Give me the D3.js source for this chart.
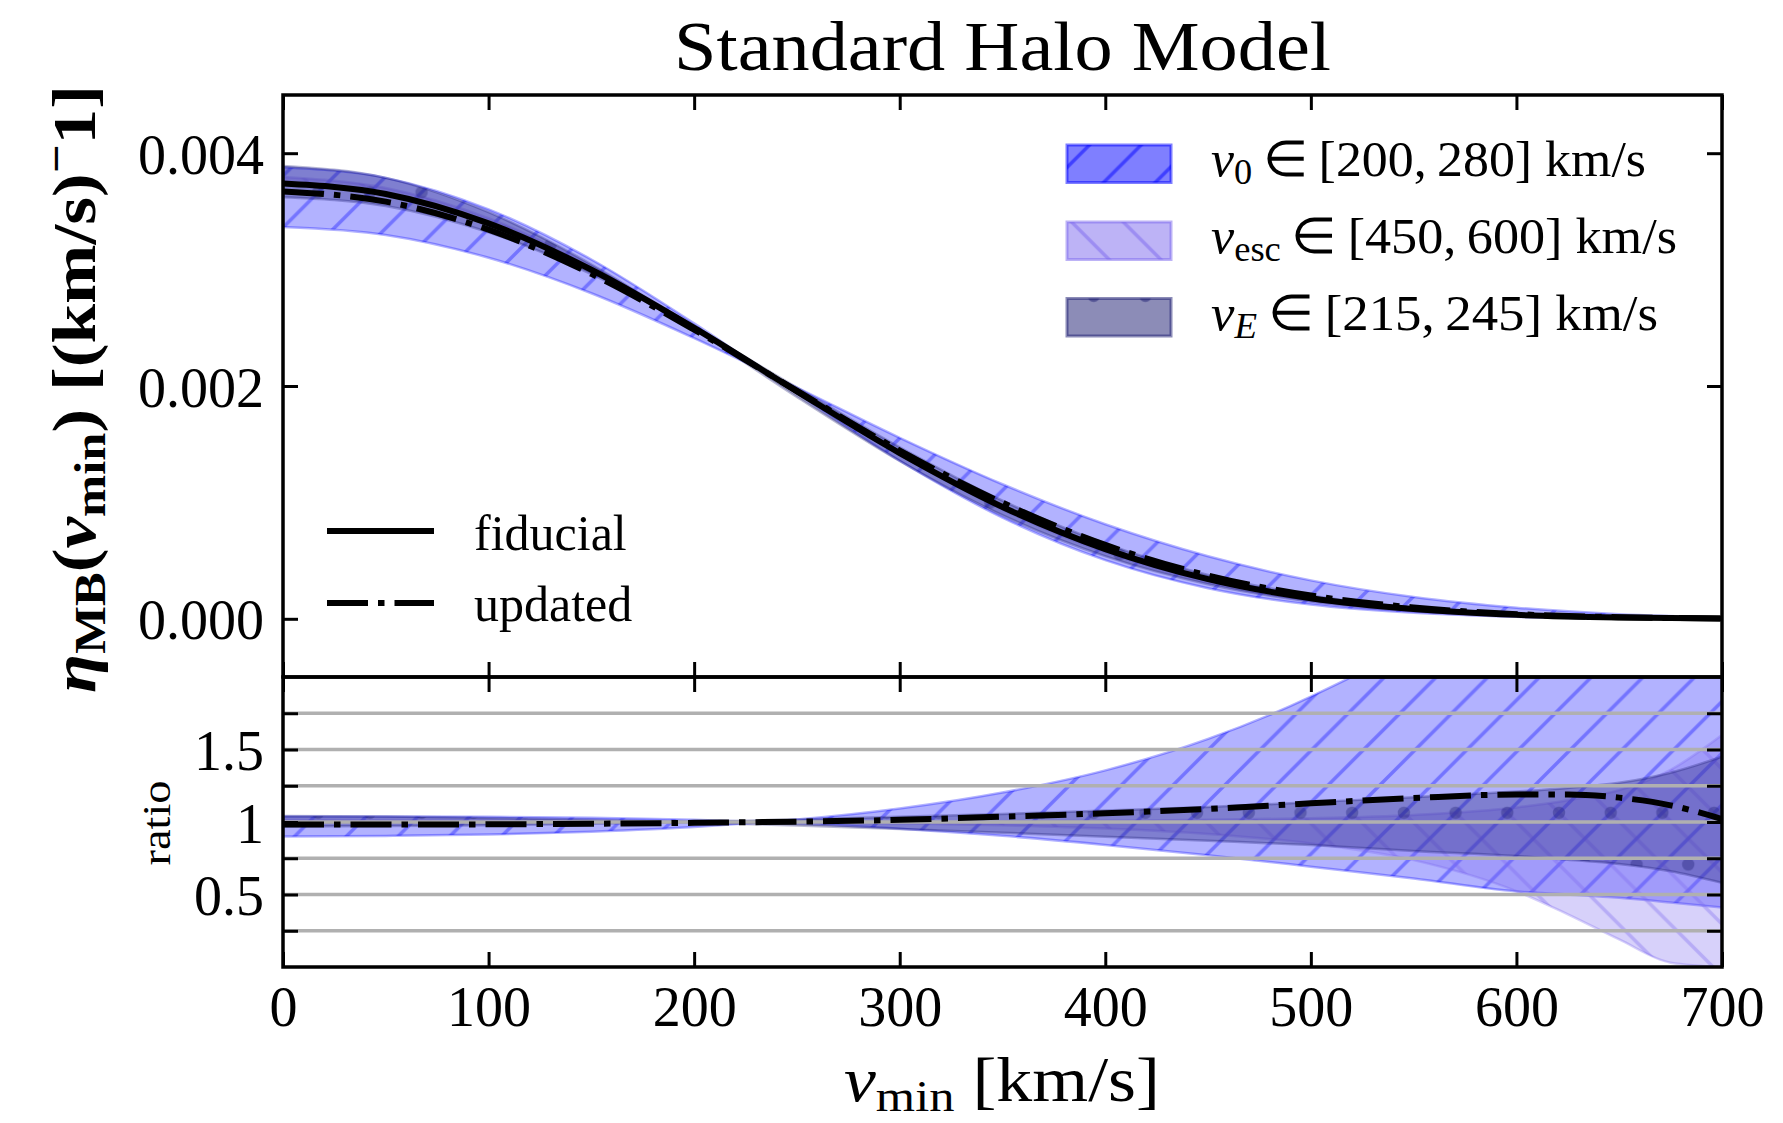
<!DOCTYPE html>
<html><head><meta charset="utf-8">
<script src="https://cdn.jsdelivr.net/npm/d3@7"></script>
<style>
body{margin:0;background:#fff}
svg{display:block}
text{font-family:"Liberation Serif","Times New Roman",serif;fill:#000}
</style></head><body>
<svg id="c" width="1783" height="1123"></svg>
<script>
// ---------------- data ----------------
const velocity = [0,50,100,150,200,250,300,350,400,450,500,550,600,650,700];
const etaFiducial = [0.003739,0.003650,0.003397,0.002999,0.002499,0.001954,0.001424,0.000961,0.000599,0.000341,0.000177,0.0000835,0.0000338,0.0000116,0.0000029];
const etaUpdated  = [0.003672,0.003584,0.003343,0.002963,0.002484,0.001958,0.001445,0.000997,0.000635,0.000372,0.000200,0.0000973,0.0000402,0.0000135,0.0000029];
const etaV0Low    = [0.003880,0.003788,0.003518,0.003087,0.002538,0.001936,0.001358,0.000869,0.000504,0.000263,0.000122,0.0000510,0.0000176,0.0000055,0.0000012];
const etaV0High   = [0.003366,0.003298,0.003102,0.002797,0.002411,0.001987,0.001555,0.001156,0.000812,0.000537,0.000330,0.000187,0.0000950,0.0000400,0.0000120];
const etaVescLow  = [0.003795,0.003701,0.003441,0.003029,0.002514,0.001952,0.001410,0.000939,0.000572,0.000313,0.000151,0.0000615,0.0000177,0.0000022,0.0];
const etaVescHigh = [0.003731,0.003643,0.003390,0.002996,0.002497,0.001954,0.001424,0.000963,0.000604,0.000346,0.000182,0.0000876,0.0000372,0.0000141,0.0000046];
const etaVELow    = [0.003891,0.003788,0.003493,0.003044,0.002491,0.001906,0.001356,0.000890,0.000538,0.000297,0.000149,0.0000666,0.0000259,0.0000082,0.0000016];
const etaVEHigh   = [0.003622,0.003547,0.003321,0.002962,0.002501,0.001987,0.001474,0.001015,0.000646,0.000376,0.000201,0.0000958,0.0000409,0.0000141,0.0000042];

const velocityRatio = [0,50,100,150,200,225,250,300,350,400,450,500,550,600,625,650,675,700];
const ratioUpdated  = [0.982,0.982,0.984,0.988,0.994,0.998,1.002,1.015,1.037,1.060,1.090,1.129,1.165,1.190,1.190,1.168,1.115,1.020];
const ratioV0Low    = [1.038,1.038,1.036,1.029,1.015,1.003,0.991,0.954,0.905,0.842,0.771,0.692,0.611,0.521,0.500,0.477,0.445,0.410];
const ratioV0High   = [0.900,0.904,0.913,0.933,0.965,0.990,1.017,1.093,1.203,1.356,1.573,1.865,2.245,2.810,3.100,3.430,3.800,4.200];
const ratioVescLow  = [1.015,1.014,1.013,1.010,1.006,1.003,0.999,0.990,0.977,0.955,0.917,0.852,0.737,0.523,0.363,0.190,0.030,0.000];
const ratioVescHigh = [0.998,0.998,0.998,0.999,0.999,1.000,1.000,1.000,1.002,1.008,1.015,1.026,1.049,1.100,1.150,1.220,1.360,1.600];
const ratioVELow    = [1.041,1.038,1.028,1.015,0.997,0.987,0.976,0.952,0.926,0.899,0.871,0.841,0.800,0.765,0.740,0.710,0.660,0.580];
const ratioVEHigh   = [0.969,0.972,0.977,0.988,1.001,1.009,1.017,1.036,1.056,1.079,1.103,1.137,1.170,1.210,1.235,1.270,1.340,1.450];

const xTicks = [0,100,200,300,400,500,600,700];
const etaTicks = [0,0.002,0.004];
const ratioTicks = [0.25,0.5,0.75,1,1.25,1.5,1.75];
const ratioTickLabels = {0.5:"0.5",1:"1",1.5:"1.5"};
const bandNames = ["v0","vesc","vE"];

// ---------------- layout ----------------
const L=283, R=1722, T=95, M=677, B=967;
const svg = d3.select("#c");
const x = d3.scaleLinear().domain([0,700]).range([L,R]);
const yTop = d3.scaleLinear().domain([-0.0005,0.0045]).range([M,T]);
const yRat = d3.scaleLinear().domain([0,2]).range([B,M]);

const styles = {
  v0:   {color:"#0000ff", hatch:"ne", alpha:0.3},
  vesc: {color:"#7b68ee", hatch:"nw", alpha:0.3},
  vE:   {color:"#191970", hatch:"circ", alpha:0.33}
};
const S = 51.7;
const defs = svg.append("defs");
function makePatterns(suffix, alpha){
  bandNames.forEach(n=>{
    const st = styles[n];
    const p = defs.append("pattern").attr("id",n+suffix).attr("patternUnits","userSpaceOnUse")
      .attr("x",8).attr("y",-14.4).attr("width",S).attr("height", st.hatch==="circ"?2*S:S);
    const g = p.append("g").attr("opacity",alpha);
    if(st.hatch==="ne"){
      g.append("path").attr("d",`M0,${S} L${S},0 M-6,6 L6,-6 M${S-6},${S+6} L${S+6},${S-6}`)
        .attr("stroke",st.color).attr("stroke-width",3.5).attr("fill","none");
    } else if(st.hatch==="nw"){
      g.append("path").attr("d",`M0,0 L${S},${S} M-6,${S-6} L6,${S+6} M${S-6},-6 L${S+6},6`)
        .attr("stroke",st.color).attr("stroke-width",3.5).attr("fill","none");
    } else {
      [[0,0],[S,0],[S/2,S],[0,2*S],[S,2*S]].forEach(c=>{
        g.append("circle").attr("cx",c[0]).attr("cy",c[1]).attr("r",6.2).attr("fill",st.color);
      });
    }
  });
}
makePatterns("-plot",0.35);
makePatterns("-leg",0.5);

defs.append("clipPath").attr("id","clipTop").append("rect").attr("x",L).attr("y",T).attr("width",R-L).attr("height",M-T);
defs.append("clipPath").attr("id","clipRat").append("rect").attr("x",L).attr("y",M).attr("width",R-L).attr("height",B-M);

function drawBand(g, xs, lo, hi, ys, name){
  const st = styles[name];
  const area = d3.area().x((d,i)=>x(xs[i])).y0((d,i)=>ys(lo[i])).y1((d,i)=>ys(hi[i])).curve(d3.curveMonotoneX);
  const dStr = area(xs);
  g.append("path").attr("d",dStr).attr("fill",st.color).attr("fill-opacity",st.alpha);
  g.append("path").attr("d",dStr).attr("fill",`url(#${name}-plot)`);
  g.append("path").attr("d",dStr).attr("fill","none").attr("stroke",st.color).attr("stroke-opacity",0.3).attr("stroke-width",2.5);
}
function drawLine(g, xs, vals, ys, dashed){
  const line = d3.line().x((d,i)=>x(xs[i])).y((d,i)=>ys(vals[i])).curve(d3.curveMonotoneX);
  const p = g.append("path").attr("d",line(xs)).attr("fill","none").attr("stroke","#000").attr("stroke-width",6);
  if(dashed) p.attr("stroke-dasharray","41 10 6.5 10");
}

// ---------------- top panel ----------------
const gTop = svg.append("g").attr("clip-path","url(#clipTop)");
drawBand(gTop, velocity, etaV0Low, etaV0High, yTop, "v0");
drawBand(gTop, velocity, etaVescLow, etaVescHigh, yTop, "vesc");
drawBand(gTop, velocity, etaVELow, etaVEHigh, yTop, "vE");
drawLine(gTop, velocity, etaFiducial, yTop, false);
drawLine(gTop, velocity, etaUpdated, yTop, true);

// ---------------- ratio panel ----------------
const gRat = svg.append("g").attr("clip-path","url(#clipRat)");
drawBand(gRat, velocityRatio, ratioV0Low, ratioV0High, yRat, "v0");
drawBand(gRat, velocityRatio, ratioVescLow, ratioVescHigh, yRat, "vesc");
drawBand(gRat, velocityRatio, ratioVELow, ratioVEHigh, yRat, "vE");
gRat.selectAll("line.grid").data(ratioTicks).enter().append("line").attr("class","grid")
  .attr("x1",L).attr("x2",R).attr("y1",d=>yRat(d)).attr("y2",d=>yRat(d))
  .attr("stroke","#b0b0b0").attr("stroke-width",3.3);
drawLine(gRat, velocityRatio, ratioUpdated, yRat, true);

// ---------------- axes ----------------
function styleAxis(g, fs){
  g.select(".domain").remove();
  g.attr("font-family",null).attr("font-size",null);
  g.selectAll(".tick line").attr("stroke","#000").attr("stroke-width",3);
  g.selectAll(".tick text").attr("font-size",fs).attr("fill","#000")
    .style("font-family",'"Liberation Serif","Times New Roman",serif');
}
const none = () => "";
const ax = [];
ax.push(svg.append("g").attr("transform",`translate(0,${T})`).call(d3.axisTop(x).tickValues(xTicks).tickSize(-15).tickFormat(none)));
ax.push(svg.append("g").attr("transform",`translate(0,${M})`).call(d3.axisBottom(x).tickValues(xTicks).tickSize(-15).tickFormat(none)));
ax.push(svg.append("g").attr("transform",`translate(0,${M})`).call(d3.axisTop(x).tickValues(xTicks).tickSize(-15).tickFormat(none)));
const xb = svg.append("g").attr("transform",`translate(0,${B})`).call(d3.axisBottom(x).tickValues(xTicks).tickSize(-15).tickPadding(19).tickFormat(d3.format("d")));
ax.push(xb);
const yl = svg.append("g").attr("transform",`translate(${L},0)`).call(d3.axisLeft(yTop).tickValues(etaTicks).tickSize(-15).tickPadding(19).tickFormat(d3.format(".3f")));
ax.push(yl);
ax.push(svg.append("g").attr("transform",`translate(${R},0)`).call(d3.axisRight(yTop).tickValues(etaTicks).tickSize(-15).tickFormat(none)));
const rl = svg.append("g").attr("transform",`translate(${L},0)`).call(d3.axisLeft(yRat).tickValues(ratioTicks).tickSize(-15).tickPadding(19).tickFormat(d=>ratioTickLabels[d]||""));
ax.push(rl);
ax.push(svg.append("g").attr("transform",`translate(${R},0)`).call(d3.axisRight(yRat).tickValues(ratioTicks).tickSize(-15).tickFormat(none)));
ax.forEach(g=>styleAxis(g,56));
yl.selectAll(".tick text").attr("dy","0.36em");
rl.selectAll(".tick text").attr("dy","0.36em");

// spines
svg.append("rect").attr("x",L).attr("y",T).attr("width",R-L).attr("height",M-T).attr("fill","none").attr("stroke","#000").attr("stroke-width",3.5);
svg.append("rect").attr("x",L).attr("y",M).attr("width",R-L).attr("height",B-M).attr("fill","none").attr("stroke","#000").attr("stroke-width",3.5);

// ---------------- texts ----------------
svg.append("text").attr("x",(L+R)/2).attr("y",70).attr("text-anchor","middle").attr("font-size",70)
  .attr("textLength",657).attr("lengthAdjust","spacingAndGlyphs").text("Standard Halo Model");

const xl = svg.append("text").attr("x",1002).attr("y",1101).attr("text-anchor","middle").attr("font-size",64)
  .attr("textLength",316).attr("lengthAdjust","spacingAndGlyphs");
xl.append("tspan").attr("font-style","italic").text("v");
xl.append("tspan").attr("font-size",45).attr("dy",10).text("min");
xl.append("tspan").attr("dy",-10).text("\u00a0[km/s]");

const ylab = svg.append("text").attr("transform","translate(95,389) rotate(-90)").attr("text-anchor","middle")
  .attr("font-size",62).attr("font-weight","bold").attr("textLength",608).attr("lengthAdjust","spacingAndGlyphs");
ylab.append("tspan").attr("font-style","italic").text("\u03b7");
ylab.append("tspan").attr("font-size",44).attr("dy",10).text("MB");
ylab.append("tspan").attr("dy",-10).text("(");
ylab.append("tspan").attr("font-style","italic").text("v");
ylab.append("tspan").attr("font-size",44).attr("dy",10).text("min");
ylab.append("tspan").attr("dy",-10).text(")\u00a0[(km/s)");
ylab.append("tspan").attr("font-size",44).attr("dy",-24).text("\u2212");
ylab.append("tspan").attr("dy",24).text("1]");

svg.append("text").attr("transform","translate(170,823) rotate(-90)").attr("text-anchor","middle")
  .attr("font-size",41).attr("textLength",85).attr("lengthAdjust","spacingAndGlyphs").text("ratio");

// band legend
const legRows = [
  {name:"v0", y:145, base:176, sub:"0", subItalic:false, rest:"\u2009\u2208\u2009[200,\u2009280]\u00a0km/s", w:435},
  {name:"vesc", y:222, base:252.5, sub:"esc", subItalic:false, rest:"\u2009\u2208\u2009[450,\u2009600]\u00a0km/s", w:466},
  {name:"vE", y:298.5, base:330, sub:"E", subItalic:true, rest:"\u2009\u2208\u2009[215,\u2009245]\u00a0km/s", w:447}
];
legRows.forEach(r=>{
  const st = styles[r.name];
  svg.append("rect").attr("x",1067).attr("y",r.y).attr("width",104).attr("height",37.5)
    .attr("fill",st.color).attr("fill-opacity",0.5);
  svg.append("rect").attr("x",1067).attr("y",r.y).attr("width",104).attr("height",37.5)
    .attr("fill",`url(#${r.name}-leg)`);
  svg.append("rect").attr("x",1067).attr("y",r.y).attr("width",104).attr("height",37.5)
    .attr("fill","none").attr("stroke",st.color).attr("stroke-opacity",0.5).attr("stroke-width",3);
  const t = svg.append("text").attr("x",1211).attr("y",r.base).attr("font-size",50)
    .attr("textLength",r.w).attr("lengthAdjust","spacingAndGlyphs");
  t.append("tspan").attr("font-style","italic").text("v");
  const s = t.append("tspan").attr("font-size",35).attr("dy",8).text(r.sub);
  if(r.subItalic) s.attr("font-style","italic");
  t.append("tspan").attr("dy",-8).text(r.rest);
});

// line legend
const lineLeg = [{label:"fiducial", y:531, base:550, dashed:false},{label:"updated", y:603, base:621, dashed:true}];
lineLeg.forEach(r=>{
  const l = svg.append("line").attr("x1",327).attr("x2",434).attr("y1",r.y).attr("y2",r.y)
    .attr("stroke","#000").attr("stroke-width",6);
  if(r.dashed) l.attr("stroke-dasharray","41 10 6.5 10");
  svg.append("text").attr("x",474).attr("y",r.base).attr("font-size",50).text(r.label);
});
</script>
</body></html>
